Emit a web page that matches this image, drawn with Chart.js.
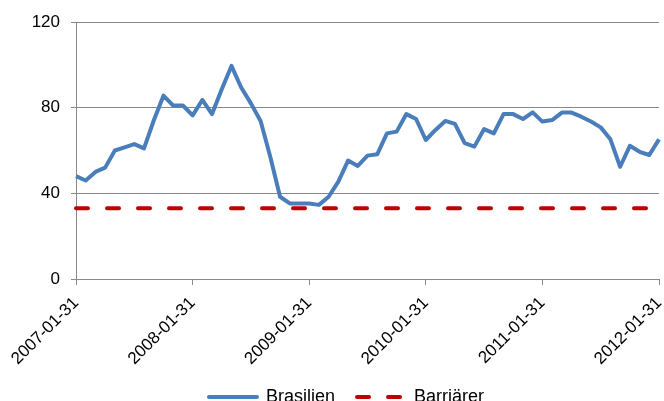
<!DOCTYPE html>
<html>
<head>
<meta charset="utf-8">
<script src="https://cdn.jsdelivr.net/npm/chart.js@4"></script>
<style>
  html, body { margin: 0; padding: 0; background: #fff; }
  #wrap { width: 664px; height: 401px; }
</style>
</head>
<body>
<div id="wrap"><canvas id="chart"></canvas></div>
<script>
// Månadsdatum (månadsslut)
const datum = [
    '2007-01-31', '2007-02-28', '2007-03-31', '2007-04-30', '2007-05-31', '2007-06-30',
    '2007-07-31', '2007-08-31', '2007-09-30', '2007-10-31', '2007-11-30', '2007-12-31',
    '2008-01-31', '2008-02-29', '2008-03-31', '2008-04-30', '2008-05-31', '2008-06-30',
    '2008-07-31', '2008-08-31', '2008-09-30', '2008-10-31', '2008-11-30', '2008-12-31',
    '2009-01-31', '2009-02-28', '2009-03-31', '2009-04-30', '2009-05-31', '2009-06-30',
    '2009-07-31', '2009-08-31', '2009-09-30', '2009-10-31', '2009-11-30', '2009-12-31',
    '2010-01-31', '2010-02-28', '2010-03-31', '2010-04-30', '2010-05-31', '2010-06-30',
    '2010-07-31', '2010-08-31', '2010-09-30', '2010-10-31', '2010-11-30', '2010-12-31',
    '2011-01-31', '2011-02-28', '2011-03-31', '2011-04-30', '2011-05-31', '2011-06-30',
    '2011-07-31', '2011-08-31', '2011-09-30', '2011-10-31', '2011-11-30', '2011-12-31',
    '2012-01-31'
];

const brasilien = [
    48, 46, 50, 52, 60, 61.5, 63, 61, 74, 85.6, 81, 81,
    76.4, 83.6, 77, 88.6, 99.5, 89.4, 82, 73.8, 57, 38.4, 35.3, 35.3,
    35.3, 34.6, 38.4, 45.5, 55.3, 52.8, 57.6, 58.2, 68, 68.8, 77, 74.7,
    64.9, 69.6, 73.8, 72.4, 63.4, 61.8, 70, 68, 77, 77, 74.7, 77.8,
    73.5, 74.2, 77.7, 77.7, 75.8, 73.5, 70.8, 65.2, 52.4, 62.2, 59.4, 57.9,
    65.2
];

const barriarer = [
    33, 33, 33, 33, 33, 33, 33, 33, 33, 33, 33, 33,
    33, 33, 33, 33, 33, 33, 33, 33, 33, 33, 33, 33,
    33, 33, 33, 33, 33, 33, 33, 33, 33, 33, 33, 33,
    33, 33, 33, 33, 33, 33, 33, 33, 33, 33, 33, 33,
    33, 33, 33, 33, 33, 33, 33, 33, 33, 33, 33, 33,
    33
];

const yTicks = [0, 40, 80, 120];

const FONT = 'Liberation Sans, Arial, sans-serif';
const GRA = '#898989';

// legenden ritas med streckad linje för barriären
function legendItems(chart) {
    return chart.data.datasets.map((ds, i) => ({
        text: ds.label,
        strokeStyle: ds.borderColor,
        fillStyle: ds.borderColor,
        lineWidth: 4,
        lineDash: ds.borderDash || [],
        lineCap: 'round',
        pointStyle: 'line',
        fontColor: '#000',
        hidden: false,
        datasetIndex: i
    }));
}

// flytta legenden lite åt höger, som i originalet
const flyttaLegend = {
    id: 'flyttaLegend',
    afterLayout(chart) {
        chart.legend.left += 17;
        chart.legend.right += 17;
    }
};

const ctx = document.getElementById('chart').getContext('2d');
const chart = new Chart(ctx, {
    type: 'line',
    data: {
        labels: datum,
        datasets: [{
            label: 'Brasilien',
            data: brasilien,
            borderColor: '#4a7ebb',
            backgroundColor: '#4a7ebb',
            borderWidth: 4,
            borderJoinStyle: 'round',
            pointRadius: 0,
            tension: 0
        }, {
            label: 'Barriärer',
            data: barriarer,
            borderColor: '#c00000',
            backgroundColor: '#c00000',
            borderWidth: 4,
            borderDash: [12, 19],
            borderCapStyle: 'round',
            pointRadius: 0,
            tension: 0
        }]
    },
    plugins: [flyttaLegend],
    options: {
        responsive: true,
        maintainAspectRatio: false,
        animation: false,
        layout: {
            padding: { top: 22, right: 5, left: 0, bottom: -15 }
        },
        plugins: {
            tooltip: { enabled: false },
            legend: {
                position: 'bottom',
                labels: {
                    color: '#000',
                    font: { family: FONT, size: 18 },
                    usePointStyle: true,
                    pointStyleWidth: 48,
                    boxHeight: 4,
                    padding: 22,
                    generateLabels: legendItems
                }
            }
        },
        scales: {
            x: {
                offset: false,
                grid: {
                    display: true,
                    drawOnChartArea: false,
                    color: GRA,
                    tickLength: 6
                },
                border: { color: GRA, width: 1 },
                ticks: {
                    autoSkip: false,
                    maxRotation: 45,
                    minRotation: 45,
                    color: '#000',
                    font: { family: FONT, size: 17 },
                    padding: 8,
                    callback: function (val, i) {
                        return i % 12 === 0 ? datum[i] : null;
                    }
                },
                afterFit: function (s) {
                    s.height = 87;
                    s.paddingRight = 0;
                    s.paddingLeft = 0;
                }
            },
            y: {
                min: 0,
                max: 120,
                afterBuildTicks: function (s) {
                    s.ticks = yTicks.map(v => ({ value: v }));
                },
                grid: {
                    color: GRA,
                    tickLength: 5
                },
                border: { color: GRA, width: 1 },
                ticks: {
                    color: '#000',
                    font: { family: FONT, size: 17 },
                    padding: 11
                },
                afterFit: function (s) { s.width = 76; }
            }
        }
    }
});
</script>
</body>
</html>
